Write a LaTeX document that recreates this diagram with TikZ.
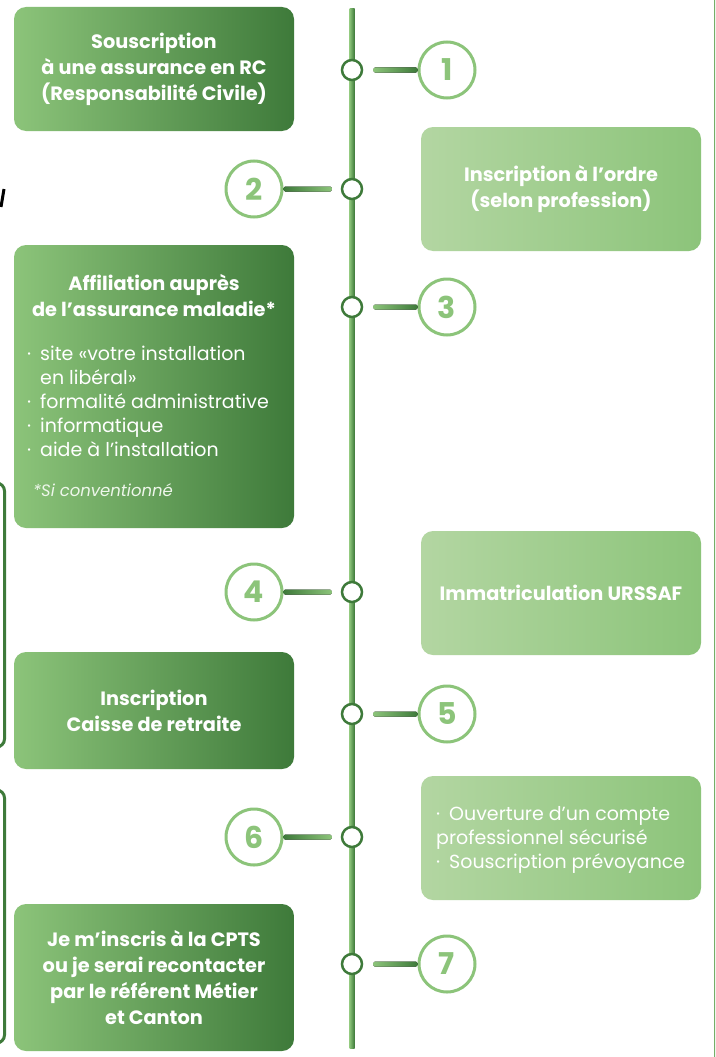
\documentclass[tikz,border=0pt]{standalone}
\usepackage{fontspec}
\setmainfont{Poppins}
\usetikzlibrary{calc}
\definecolor{dkg}{HTML}{3E7A3A}
\definecolor{lg}{HTML}{8CC47A}
\definecolor{llg}{HTML}{B3D6A2}
\newcommand{\bul}{·\hspace{9pt}}
\begin{document}
\begin{tikzpicture}[x=1pt,y=-1pt,
  lbox/.style={rounded corners=12pt, left color=lg, right color=dkg, minimum width=280pt, text=white, font=\bfseries\fontsize{19.3}{26}\selectfont, align=center, inner sep=0pt},
  rbox/.style={rounded corners=12pt, left color=llg, right color=lg, minimum width=280pt, minimum height=124pt, text=white, font=\bfseries\fontsize{19.3}{26}\selectfont, align=center, inner sep=0pt},
  dot/.style={circle, draw=dkg, line width=2.5pt, fill=white, minimum size=20pt, inner sep=0pt},
  num/.style={circle, draw=lg, line width=3pt, fill=white, minimum size=56pt, inner sep=0pt, text=lg, font=\bfseries\fontsize{30}{30}\selectfont},
  ltxt/.style={text=white, align=left, inner sep=0pt, anchor=west},
  conr/.style={left color=lg, right color=dkg},
  conl/.style={left color=dkg, right color=lg},
]
\clip (0,0) rectangle (715,1057);
\fill[white] (0,0) rectangle (715,1057);

% edge fragments
\draw[dkg, line width=3pt, rounded corners=8pt] (-20,483) -- (4.5,483) -- (4.5,747) -- (-20,747);
\draw[dkg, line width=3pt, rounded corners=8pt] (-20,790) -- (4.5,790) -- (4.5,1043) -- (-20,1043);
\draw[black, line width=3pt] (4,189) -- (1,207);
\draw[lg!70!dkg, line width=2pt] (714.5,0) -- (714.5,1057);

% timeline
\coordinate (ltop) at (352,9);
\coordinate (lbot) at (352,1048);
\fill[conr] ($(ltop)+(-2.5,0)$) rectangle ($(lbot)+(2.5,0)$);

% boxes
\node[lbox, minimum height=124pt] (b1) at (154,69) {Souscription\\à une assurance en RC\\(Responsabilité Civile)};
\node[rbox] (b2) at (561,189) {Inscription à l’ordre\\(selon profession)};
\node[lbox, minimum height=283pt] (b3) at (154,386.5) {};
\node[rbox] (b4) at (561,593) {Immatriculation URSSAF};
\node[lbox, minimum height=117pt] (b5) at (154,710.5) {Inscription\\Caisse de retraite};
\node[rbox] (b6) at (561,838) {};
\node[lbox, minimum height=147pt] (b7) at (154,977.5) {Je m’inscris à la CPTS\\ou je serai recontacter\\par le référent Métier\\et Canton};

% box 3 texts
\node[text=white, align=center, inner sep=0pt, font=\bfseries\fontsize{19.3}{26}\selectfont] (b3t) at (154,296) {Affiliation auprès\\de l’assurance maladie*};
\node[ltxt, font=\fontsize{19}{24}\selectfont] (b3l) at (27,401) {\bul site «votre installation\\\phantom{\bul}en libéral»\\\bul formalité administrative\\\bul informatique\\\bul aide à l’installation};
\node[ltxt, font=\itshape\fontsize{16.5}{18}\selectfont, text=white!85!lg] (b3f) at (33,490) {*Si conventionné};

% box 6 text
\node[ltxt, font=\fontsize{19}{24}\selectfont] (b6t) at (436,840) {\bul Ouverture d’un compte\\professionnel sécurisé\\\bul Souscription prévoyance};

% dots and numbers
\node[dot] (d1) at (352,70) {};
\node[dot] (d2) at (352,189) {};
\node[dot] (d3) at (352,307) {};
\node[dot] (d4) at (352,592) {};
\node[dot] (d5) at (352,714) {};
\node[dot] (d6) at (352,837) {};
\node[dot] (d7) at (352,964) {};

\node[num] (n1) at (447,70) {1};
\node[num] (n2) at (254,189) {2};
\node[num] (n3) at (447,307) {3};
\node[num] (n4) at (254,592) {4};
\node[num] (n5) at (447,714) {5};
\node[num] (n6) at (254,837) {6};
\node[num] (n7) at (447,964) {7};

% connectors
\foreach \i in {1,3,5,7}{
  \fill[conr, rounded corners=1.5pt] ($(d\i.east)+(10,-2.5)$) rectangle ($(n\i.west)+(0,2.5)$);
}
\foreach \i in {2,4,6}{
  \fill[conl, rounded corners=1.5pt] ($(n\i.east)+(0,-2.5)$) rectangle ($(d\i.west)+(-9,2.5)$);
}
\end{tikzpicture}
\end{document}
